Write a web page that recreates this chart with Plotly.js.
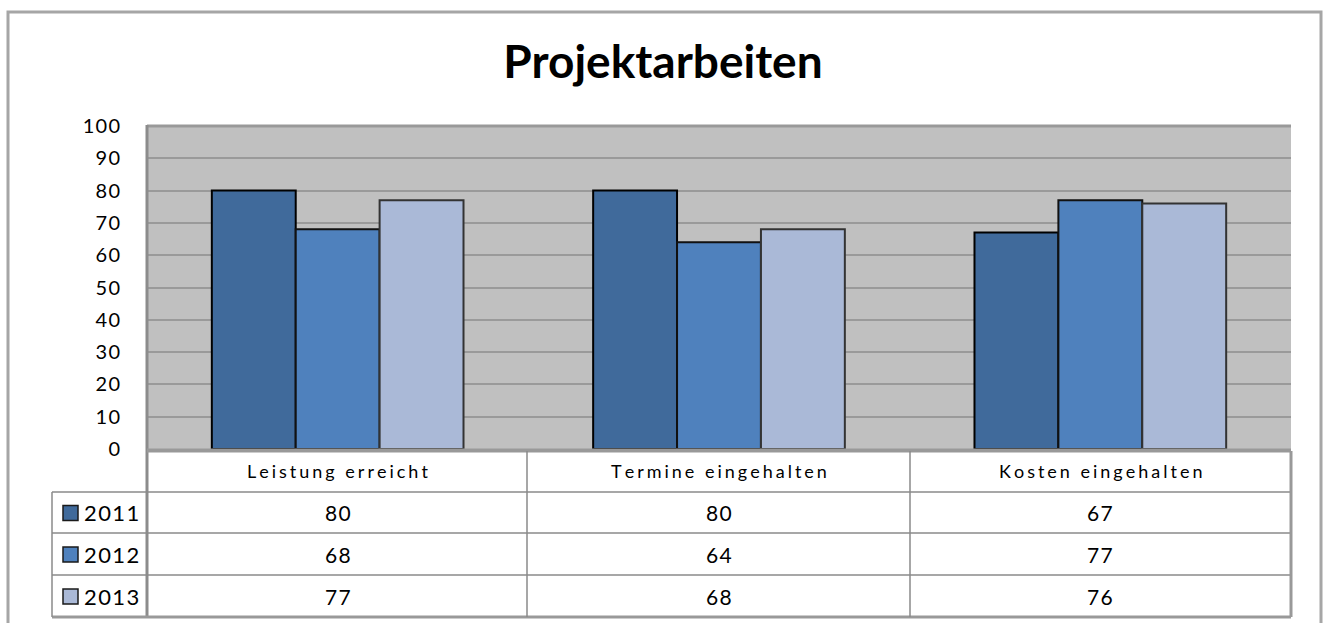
<!DOCTYPE html>
<html>
<head>
<meta charset="utf-8">
<script src="https://cdn.plot.ly/plotly-3.0.1.min.js"></script>
<style>html,body{margin:0;padding:0;background:#fff;}#chart{width:1326px;height:623px;}</style>
</head>
<body>
<div id="chart"></div>
<script>
const categories = ["Leistung erreicht", "Termine eingehalten", "Kosten eingehalten"];
const seriesNames = ["2011", "2012", "2013"];
const values2011 = [80, 80, 67];
const values2012 = [68, 64, 77];
const values2013 = [77, 68, 76];
const yTicks = [0, 10, 20, 30, 40, 50, 60, 70, 80, 90, 100];

const seriesValues = [values2011, values2012, values2013];
const colors = ["#406a9b", "#4f81bd", "#aab9d7"];
const lineColors = ["#000000", "#111111", "#333333"];

const W = 1326, H = 623;
const px = v => v / W;
const py = v => 1 - v / H;
const spaced = (s, sp) => s.split('').join(sp);

const plotL = 147, plotR = 1291, plotT = 126, plotB = 449;
const tableRows = [451, 492, 533, 575, 617];
const colEdges = [147, 527, 910, 1291];
const legendL = 52;

const traces = seriesNames.map((n, i) => ({
  type: 'bar', name: n, x: categories, y: seriesValues[i],
  marker: {color: colors[i], line: {color: lineColors[i], width: 2}},
  hoverinfo: 'x+y+name'
}));

const FONT = "Lato, 'Open Sans', 'DejaVu Sans', sans-serif";
const shapes = [];
const annotations = [];

// outer frame
shapes.push({type: 'rect', xref: 'paper', yref: 'paper', x0: px(8), x1: px(1321), y0: py(640), y1: py(12),
  line: {color: '#a6a6a6', width: 3}, fillcolor: 'rgba(0,0,0,0)', layer: 'below'});
// plot area borders
shapes.push({type: 'line', xref: 'paper', yref: 'paper', x0: px(plotL), x1: px(plotR), y0: py(plotT), y1: py(plotT), line: {color: '#999999', width: 3}});
shapes.push({type: 'line', xref: 'paper', yref: 'paper', x0: px(plotL), x1: px(plotL), y0: py(plotT - 1), y1: py(tableRows[4]), line: {color: '#8c8c8c', width: 3}});
shapes.push({type: 'line', xref: 'paper', yref: 'paper', x0: px(plotL), x1: px(plotR), y0: py(plotB + 1), y1: py(plotB + 1), line: {color: '#999999', width: 3}});

// table horizontal lines
tableRows.forEach((r, i) => {
  const x0 = i === 0 ? plotL : legendL;
  const c = (i === 0 || i === 4) ? '#999999' : '#8a8a8a';
  shapes.push({type: 'line', xref: 'paper', yref: 'paper', x0: px(x0), x1: px(plotR), y0: py(r), y1: py(r), line: {color: c, width: (i === 0 || i === 4) ? 3 : 1.5}});
});
// table vertical lines
colEdges.forEach((c, i) => {
  if (i === 0) return;
  const last = i === colEdges.length - 1;
  shapes.push({type: 'line', xref: 'paper', yref: 'paper', x0: px(c), x1: px(c), y0: py(tableRows[0]), y1: py(tableRows[4]),
    line: {color: last ? '#999999' : '#8a8a8a', width: last ? 3 : 1.5}});
});
shapes.push({type: 'line', xref: 'paper', yref: 'paper', x0: px(legendL), x1: px(legendL), y0: py(tableRows[1]), y1: py(tableRows[4]), line: {color: '#8a8a8a', width: 1.5}});

// header category labels
categories.forEach((cat, j) => {
  annotations.push({xref: 'x', yref: 'paper', x: cat, y: py((tableRows[0] + tableRows[1]) / 2 - 1),
    text: spaced(cat, '\u2006'), showarrow: false, font: {family: FONT, size: 18, color: '#000'}, xanchor: 'center', yanchor: 'middle'});
});
// values and legend
seriesNames.forEach((n, i) => {
  const ymid = (tableRows[i + 1] + tableRows[i + 2]) / 2;
  categories.forEach((cat, j) => {
    annotations.push({xref: 'x', yref: 'paper', x: cat, y: py(ymid), text: spaced(String(seriesValues[i][j]), '\u200A'),
      showarrow: false, font: {family: FONT, size: 21, color: '#000'}, xanchor: 'center', yanchor: 'middle'});
  });
  shapes.push({type: 'rect', xref: 'paper', yref: 'paper', x0: px(63), x1: px(78), y0: py(ymid - 7), y1: py(ymid + 8),
    fillcolor: colors[i], line: {color: '#1a1a1a', width: 1.5}});
  annotations.push({xref: 'paper', yref: 'paper', x: px(82), y: py(ymid), text: spaced(n, '\u200A'), showarrow: false,
    font: {family: FONT, size: 22, color: '#000'}, xanchor: 'left', yanchor: 'middle'});
});

const layout = {
  width: W, height: H,
  margin: {l: 0, r: 0, t: 0, b: 0},
  paper_bgcolor: '#ffffff',
  plot_bgcolor: '#c0c0c0',
  showlegend: false,
  barmode: 'group',
  bargap: 0.34,
  bargroupgap: 0,
  title: {text: '<b>Projektarbeiten</b>', x: 0.5, xanchor: 'center', y: py(62), yanchor: 'middle',
    font: {family: FONT, size: 46, color: '#000'}},
  xaxis: {domain: [px(plotL), px(plotR)], showticklabels: false, showgrid: false, zeroline: false, showline: false, ticks: ''},
  yaxis: {domain: [py(plotB), py(plotT)], range: [0, 100], tickvals: yTicks, ticktext: yTicks.map(v => spaced(String(v), '\u200A')),
    showgrid: true, gridcolor: '#9a9a9a', gridwidth: 2, zeroline: false, showline: false, ticks: '',
    ticklabelstandoff: 26, tickfont: {family: FONT, size: 20, color: '#000'}},
  shapes: shapes,
  annotations: annotations
};

Plotly.newPlot('chart', traces, layout, {displayModeBar: false, staticPlot: true});
</script>
</body>
</html>
